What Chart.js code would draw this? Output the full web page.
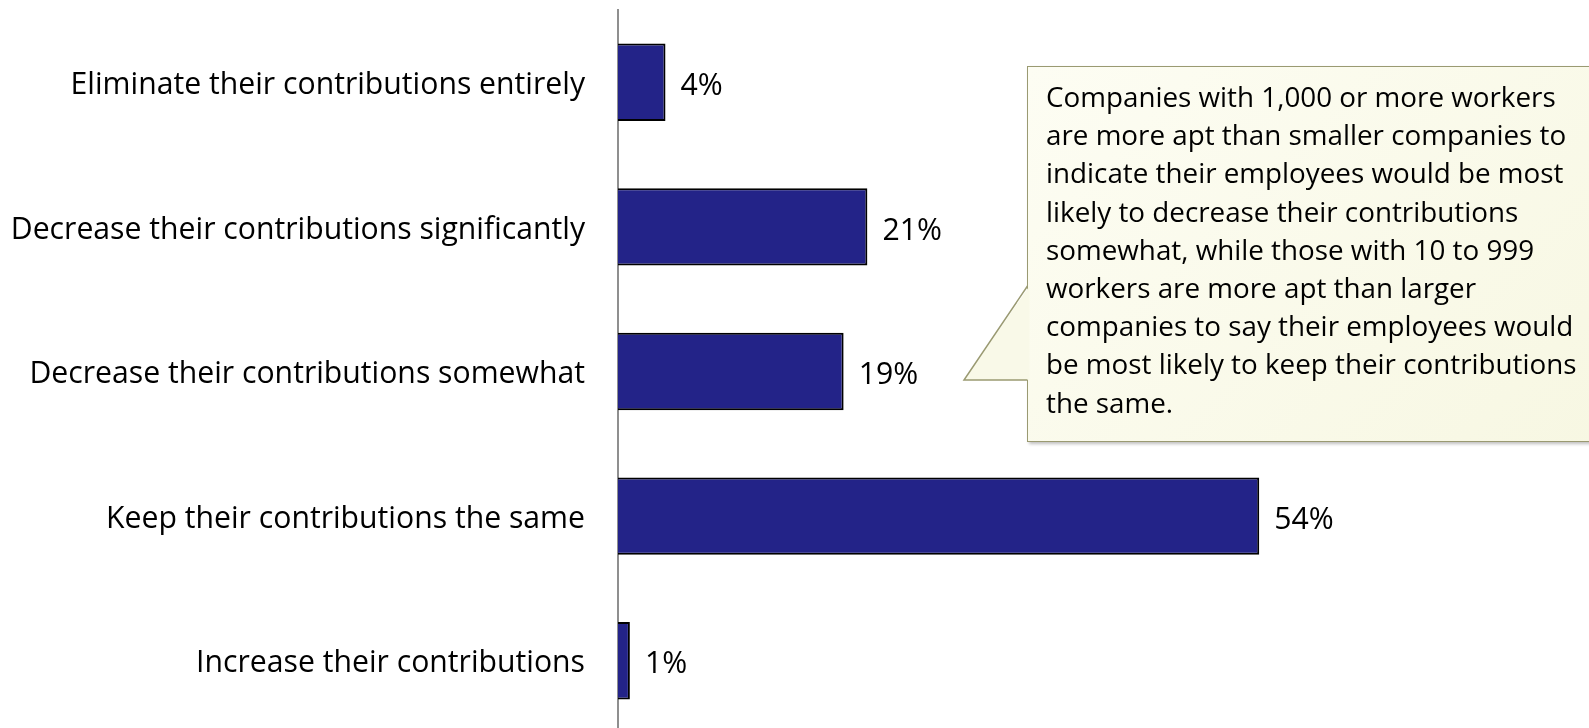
<!DOCTYPE html>
<html>
<head>
<meta charset="utf-8">
<script src="https://cdn.jsdelivr.net/npm/chart.js@4.4.1/dist/chart.umd.min.js"></script>
<style>
  html, body { margin: 0; padding: 0; background: #fff; overflow: hidden; }
  #wrap { position: relative; width: 1589px; height: 728px; overflow: hidden; }
  #chart { position: absolute; left: 0; top: 0; }
  #note {
    position: absolute; left: 1027px; top: 66px; width: 600px; height: 376px;
    box-sizing: border-box;
    background: linear-gradient(135deg, #fdfdf3 0%, #f7f7e2 100%);
    border: 1.5px solid #9a9a72;
    box-shadow: 2px 2px 3px rgba(0,0,0,0.25);
    padding: 10px 0 0 18px;
    font-family: "Open Sans", sans-serif;
    font-size: 23.5px; line-height: 38.2px; color: #000;
    white-space: nowrap;
  }
  #pointer { position: absolute; left: 0; top: 0; }
</style>
</head>
<body>
<div id="wrap">
  <canvas id="chart" width="1589" height="733"></canvas>
  <div id="note">Companies with 1,000 or more workers<br>are more apt than smaller companies to<br>indicate their employees would be most<br>likely to decrease their contributions<br>somewhat, while those with 10 to 999<br>workers are more apt than larger<br>companies to say their employees would<br>be most likely to keep their contributions<br>the same.</div>
  <svg id="pointer" width="1589" height="728">
    <polygon points="1029.5,286 964,380 1029.5,380" fill="#f9f9e8" />
    <polyline points="1027.5,286 964,380 1027.5,380" fill="none" stroke="#9a9a72" stroke-width="1.5" />
  </svg>
</div>
<script>
// survey answers, top to bottom
const answers = [
  "Eliminate their contributions entirely",
  "Decrease their contributions significantly",
  "Decrease their contributions somewhat",
  "Keep their contributions the same",
  "Increase their contributions"
];
const shares = [4, 21, 19, 54, 1];
const shareLabels = ["4%", "21%", "19%", "54%", "1%"];

const labelFont = "Open Sans";

// pick a size so the longest label is as wide as in the original (~575px)
function fitSize(text, family, target) {
  const c = document.createElement("canvas").getContext("2d");
  c.font = "100px " + family;
  return Math.round(100 * target / c.measureText(text).width * 10) / 10;
}
const labelSize = fitSize(answers[1], labelFont, 575);
document.getElementById("note").style.fontSize =
  fitSize("be most likely to keep their contributions", labelFont, 530) + "px";

// percent labels to the right of each bar
const barLabels = {
  id: "barLabels",
  afterDatasetsDraw(chart) {
    const ctx = chart.ctx;
    const meta = chart.getDatasetMeta(0);
    ctx.save();
    ctx.font = labelSize + "px " + labelFont;
    ctx.fillStyle = "#000";
    ctx.textAlign = "left";
    ctx.textBaseline = "middle";
    meta.data.forEach(function(bar, i) {
      ctx.fillText(shareLabels[i], bar.x + 15, bar.y + 4);
    });
    ctx.restore();
  }
};

new Chart("chart", {
  type: "bar",
  data: {
    labels: answers,
    datasets: [
      {
        data: shares,
        backgroundColor: "#232388",
        borderColor: "#000",
        borderWidth: 2,
        borderSkipped: "left",
        barPercentage: 0.535,
        categoryPercentage: 1
      }
    ]
  },
  options: {
    indexAxis: "y",
    responsive: false,
    animation: false,
    layout: { padding: { top: 10, right: 21, bottom: 0, left: 0 } },
    plugins: {
      legend: { display: false },
      tooltip: { enabled: false }
    },
    scales: {
      x: {
        display: false,
        min: 0,
        max: 80
      },
      y: {
        afterFit: function(scale) {
          scale.width = 618;
          scale.paddingTop = 0;
          scale.paddingBottom = 0;
        },
        grid: { display: false, drawTicks: false },
        border: { display: true, color: "#8f8f8f", width: 2 },
        ticks: {
          padding: 33,
          labelOffset: 3,
          color: "#000",
          font: { family: labelFont, size: labelSize }
        }
      }
    }
  },
  plugins: [barLabels]
});
</script>
</body>
</html>
